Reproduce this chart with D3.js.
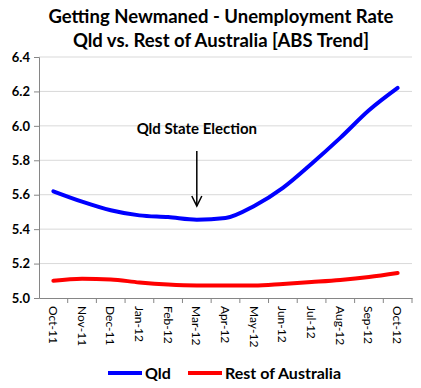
<!DOCTYPE html>
<html>
<head>
<meta charset="utf-8">
<script src="https://cdn.jsdelivr.net/npm/d3@7"></script>
<style>
  body { margin: 0; background: #fff; }
  text { font-family: Lato, "Open Sans", sans-serif; }
</style>
</head>
<body>
<div id="chart"></div>
<script>
const months = ["Oct-11", "Nov-11", "Dec-11", "Jan-12", "Feb-12", "Mar-12", "Apr-12",
  "May-12", "Jun-12", "Jul-12", "Aug-12", "Sep-12", "Oct-12"];
const qld = [5.62, 5.56, 5.51, 5.48, 5.47, 5.455, 5.465, 5.535, 5.64, 5.78, 5.93, 6.09, 6.22];
const rest = [5.10, 5.112, 5.108, 5.09, 5.078, 5.073, 5.073, 5.073, 5.082, 5.093, 5.105, 5.122, 5.145];
const yTicks = [5.0, 5.2, 5.4, 5.6, 5.8, 6.0, 6.2, 6.4];

const width = 421, height = 388;
const margin = { top: 57, right: 9, bottom: 90, left: 39 };

const svg = d3.select("#chart")
  .append("svg")
  .attr("width", width)
  .attr("height", height);

const x = d3.scaleBand()
  .domain(months)
  .range([margin.left, width - margin.right]);

const y = d3.scaleLinear()
  .domain([5.0, 6.4])
  .range([height - margin.bottom, margin.top]);

// gridlines
svg.append("g")
  .selectAll("line")
  .data(yTicks.slice(1))
  .join("line")
  .attr("x1", margin.left)
  .attr("x2", width - margin.right)
  .attr("y1", d => y(d))
  .attr("y2", d => y(d))
  .attr("stroke", "#d9d9d9")
  .attr("stroke-width", 1);

// y axis
const yAxis = svg.append("g")
  .attr("transform", `translate(${margin.left},0)`)
  .call(d3.axisLeft(y).tickValues(yTicks).tickFormat(d3.format(".1f")).tickSize(5).tickPadding(4));
yAxis.select(".domain").attr("stroke", "#868686");
yAxis.selectAll(".tick line").attr("stroke", "#868686");
yAxis.selectAll("text")
  .attr("font-size", 13)
  .attr("font-weight", "bold")
  .attr("fill", "#000");

// x axis
const xAxis = svg.append("g")
  .attr("transform", `translate(0,${height - margin.bottom})`)
  .call(d3.axisBottom(x).tickSize(0).tickPadding(0));
xAxis.select(".domain").attr("stroke", "#868686");
xAxis.selectAll(".tick text")
  .attr("font-size", 12)
  .attr("fill", "#000")
  .attr("text-anchor", "start")
  .attr("dominant-baseline", "central")
  .attr("dy", null)
  .attr("transform", "translate(0,8) rotate(90)");
// tick marks between categories
svg.append("g")
  .selectAll("line")
  .data(months)
  .join("line")
  .attr("x1", (d, i) => margin.left + x.step() * (i + 1))
  .attr("x2", (d, i) => margin.left + x.step() * (i + 1))
  .attr("y1", height - margin.bottom)
  .attr("y2", height - margin.bottom + 5)
  .attr("stroke", "#868686");

const line = d3.line()
  .x((d, i) => x(months[i]) + x.bandwidth() / 2)
  .y(d => y(d))
  .curve(d3.curveMonotoneX);

svg.append("path")
  .datum(rest)
  .attr("fill", "none")
  .attr("stroke", "#ff0000")
  .attr("stroke-width", 4)
  .attr("stroke-linecap", "round")
  .attr("d", line);

svg.append("path")
  .datum(qld)
  .attr("fill", "none")
  .attr("stroke", "#0000ff")
  .attr("stroke-width", 4)
  .attr("stroke-linecap", "round")
  .attr("d", line);

// title
const title = svg.append("g")
  .attr("font-weight", "bold")
  .attr("font-size", 18.5)
  .attr("text-anchor", "middle");
title.append("text").attr("x", 221).attr("y", 23).text("Getting Newmaned - Unemployment Rate");
title.append("text").attr("x", 221).attr("y", 47).text("Qld vs. Rest of Australia [ABS Trend]");

// annotation
const ax = x("Mar-12") + x.bandwidth() / 2;
svg.append("text")
  .attr("x", ax)
  .attr("y", 134)
  .attr("text-anchor", "middle")
  .attr("font-size", 15)
  .attr("font-weight", "bold")
  .text("Qld State Election");
svg.append("line")
  .attr("x1", ax).attr("x2", ax)
  .attr("y1", 151).attr("y2", 206)
  .attr("stroke", "#000").attr("stroke-width", 1.5);
svg.append("path")
  .attr("d", `M${ax - 5},${196} L${ax},${206} L${ax + 5},${196}`)
  .attr("fill", "none")
  .attr("stroke", "#000")
  .attr("stroke-width", 1.5);

// legend
const legend = [
  { name: "Qld", color: "#0000ff", x: 108 },
  { name: "Rest of Australia", color: "#ff0000", x: 188 }
];
const lg = svg.append("g");
lg.selectAll("line")
  .data(legend)
  .join("line")
  .attr("x1", d => d.x).attr("x2", d => d.x + 34)
  .attr("y1", 373).attr("y2", 373)
  .attr("stroke", d => d.color)
  .attr("stroke-width", 4);
lg.selectAll("text")
  .data(legend)
  .join("text")
  .attr("x", d => d.x + 37)
  .attr("y", 379)
  .attr("font-size", 16)
  .attr("font-weight", "bold")
  .text(d => d.name);
</script>
</body>
</html>
